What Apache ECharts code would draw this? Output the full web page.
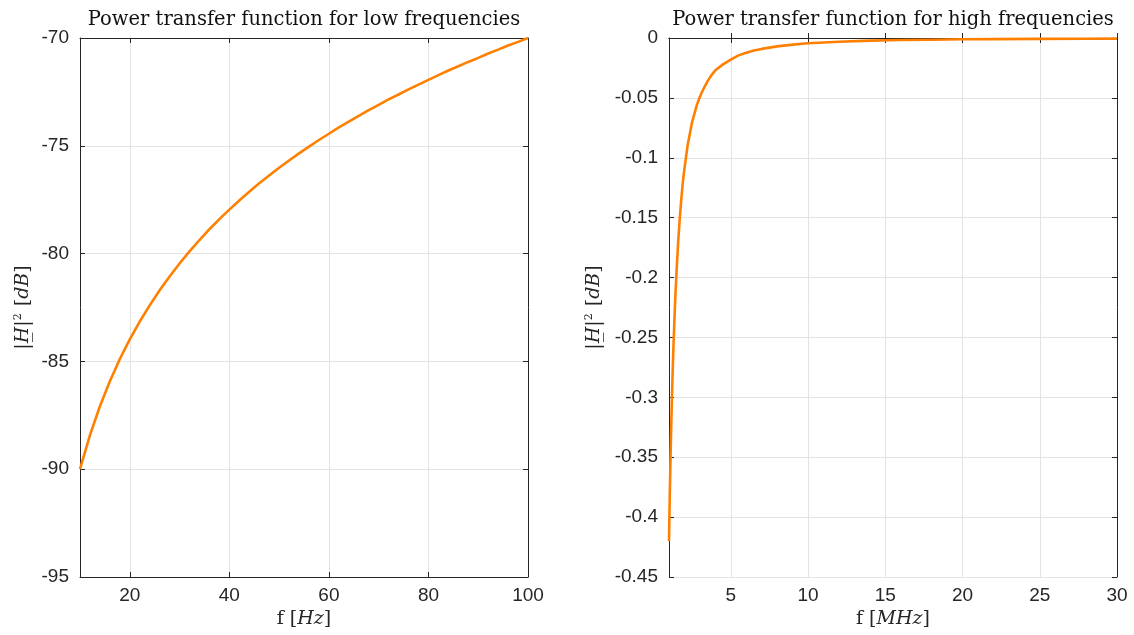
<!DOCTYPE html>
<html><head><meta charset="utf-8">
<script src="https://cdn.jsdelivr.net/npm/echarts@6/dist/echarts.min.js"></script>
<style>html,body{margin:0;padding:0;background:#fff}#c{width:1134px;height:635px}</style>
</head><body><div id="c"></div>
<script>
// Low-frequency panel data (f in Hz, |H|^2 in dB)
const lowF = [10,12,14,16,18,20,22,24,26,28,30,32,34,36,38,40,42,44,46,48,50,52,54,56,58,60,62,64,66,68,70,72,74,76,78,80,82,84,86,88,90,92,94,96,98,100];
const lowDb = [-90.00,-88.42,-87.08,-85.92,-84.89,-83.98,-83.15,-82.40,-81.70,-81.06,-80.46,-79.90,-79.37,-78.87,-78.40,-77.96,-77.54,-77.13,-76.74,-76.38,-76.02,-75.68,-75.35,-75.04,-74.73,-74.44,-74.15,-73.88,-73.61,-73.35,-73.10,-72.85,-72.62,-72.38,-72.16,-71.94,-71.72,-71.51,-71.31,-71.11,-70.92,-70.72,-70.54,-70.35,-70.18,-70.00];
// High-frequency panel data (f in MHz, |H|^2 in dB)
const highF = [1,1.05,1.1,1.15,1.2,1.25,1.3,1.4,1.5,1.6,1.7,1.8,1.9,2,2.2,2.5,2.8,3,3.25,3.5,3.75,4,4.5,5,5.5,6,6.5,7,8,9,10,12,14,16,18,20,22,25,28,30];
const highDb = [-0.420,-0.382,-0.350,-0.321,-0.296,-0.273,-0.253,-0.219,-0.192,-0.169,-0.150,-0.134,-0.120,-0.109,-0.090,-0.070,-0.056,-0.049,-0.042,-0.036,-0.031,-0.027,-0.022,-0.018,-0.0145,-0.0124,-0.0104,-0.0091,-0.0070,-0.0055,-0.0044,-0.0031,-0.0022,-0.0017,-0.0014,-0.0011,-0.0009,-0.0007,-0.0006,-0.0005];
const lowYTicks = {min:-95, max:-70, interval:5};
const highYTicks = {min:-0.45, max:0, interval:0.05};
const titles = ['Power transfer function for low frequencies','Power transfer function for high frequencies'];

const ink = '#262626', gridC = '#e3e3e3', orange = '#ff8000';
const sans = 'Liberation Sans, Arial, sans-serif';
const serif = 'DejaVu Serif, Liberation Serif, serif';
const lbl = {color: ink, fontFamily: sans, fontSize: 19};
const nameRich = {
  n: {fontFamily: serif, fontSize: 19, color: ink},
  i: {fontFamily: serif, fontSize: 19, fontStyle: 'italic', color: ink},
  s: {fontFamily: serif, fontSize: 11, color: ink, verticalAlign: 'top', padding:[0,1,10,0]}
};
const yName = '{n||}{i|H\u0332}{n||}{s|2}{n| [}{i|dB}{n|]}';

function mainX(idx, min, max, name){
  return {type:'value', gridIndex: idx, min, max, position:'bottom',
    axisLine:{show:true, lineStyle:{color: ink}}, axisTick:{show:true, inside:true, length:5, lineStyle:{color: ink}},
    axisLabel:Object.assign({showMinLabel:false, margin:9}, lbl),
    splitLine:{show:true, lineStyle:{color: gridC}},
    name, nameLocation:'middle', nameGap:32, nameTextStyle:{rich:nameRich}};
}
function topX(idx, min, max){
  return {type:'value', gridIndex: idx, min, max, position:'top',
    axisLine:{show:true, lineStyle:{color: ink}}, axisTick:{show:true, inside:true, length:5, lineStyle:{color: ink}},
    axisLabel:{show:false}, splitLine:{show:false}};
}
function mainY(idx, t, gap){
  return {type:'value', gridIndex: idx, min:t.min, max:t.max, interval:t.interval, position:'left',
    axisLine:{show:true, lineStyle:{color: ink}}, axisTick:{show:true, inside:true, length:5, lineStyle:{color: ink}},
    axisLabel:Object.assign({margin:11}, lbl),
    splitLine:{show:true, lineStyle:{color: gridC}},
    name: yName, nameLocation:'middle', nameGap:gap, nameRotate:90, nameTextStyle:{rich:nameRich}};
}
function rightY(idx, t){
  return {type:'value', gridIndex: idx, min:t.min, max:t.max, interval:t.interval, position:'right',
    axisLine:{show:true, lineStyle:{color: ink}}, axisTick:{show:true, inside:true, length:5, lineStyle:{color: ink}},
    axisLabel:{show:false}, splitLine:{show:false}};
}

const chart = echarts.init(document.getElementById('c'), null, {renderer:'canvas'});
chart.setOption({
  animation:false,
  backgroundColor:'#fff',
  title:[
    {text:titles[0], left:299, top:5, textAlign:'center', textStyle:{fontFamily:serif, fontSize:19.5, fontWeight:'normal', color:'#111'}},
    {text:titles[1], left:888, top:5, textAlign:'center', textStyle:{fontFamily:serif, fontSize:19.5, fontWeight:'normal', color:'#111'}}
  ],
  grid:[
    {left:80, right:606, top:38, bottom:58},
    {left:669, right:17, top:38, bottom:58}
  ],
  xAxis:[
    mainX(0, 10, 100, '{n|f [}{i|Hz}{n|]}'),
    mainX(1, 1, 30, '{n|f [}{i|MHz}{n|]}'),
    topX(0, 10, 100),
    topX(1, 1, 30)
  ],
  yAxis:[
    mainY(0, lowYTicks, 46),
    mainY(1, highYTicks, 64),
    rightY(0, lowYTicks),
    rightY(1, highYTicks)
  ],
  series:[
    {type:'line', xAxisIndex:0, yAxisIndex:0, data: lowF.map((f,i)=>[f, lowDb[i]]), showSymbol:false, smooth:false,
     lineStyle:{color: orange, width:2.6}},
    {type:'line', xAxisIndex:1, yAxisIndex:1, data: highF.map((f,i)=>[f, highDb[i]]), showSymbol:false, smooth:false,
     lineStyle:{color: orange, width:2.6}}
  ]
});
</script></body></html>
